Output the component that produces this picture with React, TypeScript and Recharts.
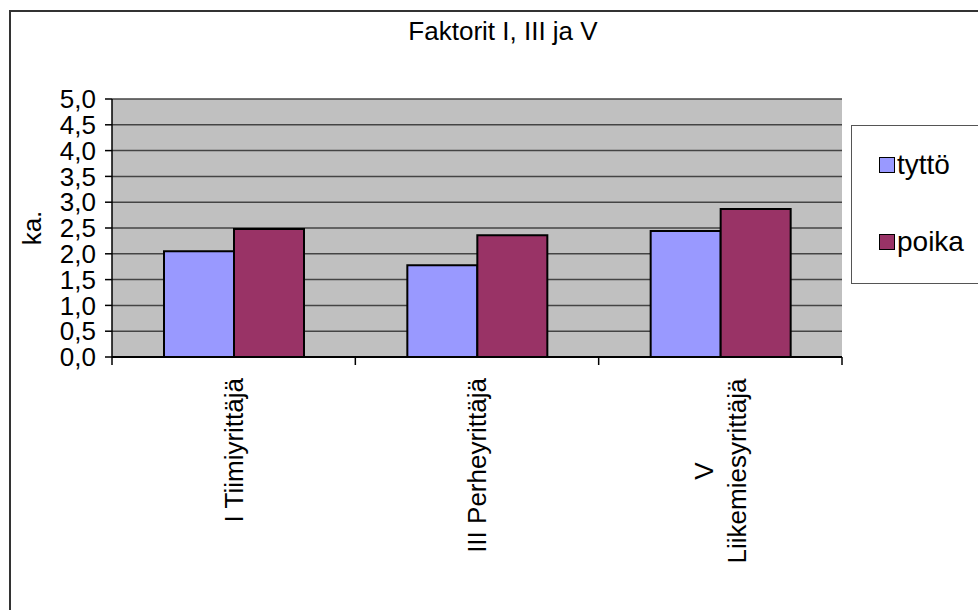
import { BarChart, Bar, XAxis, YAxis, CartesianGrid } from "recharts";

const categories = ["I Tiimiyrittäjä", "III Perheyrittäjä", "V\nLiikemiesyrittäjä"];
const tytto = [2.05, 1.78, 2.44];
const poika = [2.48, 2.36, 2.87];
const yTicks = [0, 0.5, 1, 1.5, 2, 2.5, 3, 3.5, 4, 4.5, 5];

const series = [
  { key: "tyttö", color: "#9999FF" },
  { key: "poika", color: "#993366" },
];

const FONT = '"Liberation Sans", Arial, sans-serif';
const PLOT_LEFT = 112;
const PLOT_RIGHT = 842;
const PLOT_BOTTOM = 357;
const step = (PLOT_RIGHT - PLOT_LEFT) / categories.length;

const data = categories.map((name, i) => ({ name, tyttö: tytto[i], poika: poika[i] }));

const CategoryTick = (props: any) => {
  const { x, payload, index } = props;
  const lines = String(payload.value).split("\n");
  const top = 378;
  const left = x - step / 2;
  return (
    <g>
      <line x1={left} x2={left} y1={PLOT_BOTTOM} y2={PLOT_BOTTOM + 8} stroke="#000" strokeWidth={1.5} />
      {index === categories.length - 1 && (
        <line x1={x + step / 2} x2={x + step / 2} y1={PLOT_BOTTOM} y2={PLOT_BOTTOM + 8} stroke="#000" strokeWidth={1.5} />
      )}
      {lines.length === 1 ? (
        <text
          x={x}
          y={top}
          transform={`rotate(-90 ${x} ${top})`}
          textAnchor="end"
          dominantBaseline="central"
          fontSize={26}
          fontFamily={FONT}
          fill="#000"
        >
          {lines[0]}
        </text>
      ) : (
        lines.map((l, i) => {
          const lx = x + (i - (lines.length - 1) / 2) * 33;
          const cy = top + 93;
          return (
            <text
              key={i}
              x={lx}
              y={cy}
              transform={`rotate(-90 ${lx} ${cy})`}
              textAnchor="middle"
              dominantBaseline="central"
              fontSize={26}
              fontFamily={FONT}
              fill="#000"
            >
              {l}
            </text>
          );
        })
      )}
    </g>
  );
};

const LegendBox = () => (
  <div
    style={{
      position: "absolute",
      left: 851,
      top: 125,
      width: 140,
      height: 159,
      border: "1px solid #555",
      background: "#fff",
      boxSizing: "border-box",
      fontFamily: FONT,
    }}
  >
    {series.map((s, i) => (
      <div key={s.key} style={{ position: "absolute", left: 27, top: 31 + i * 77, height: 18 }}>
        <div
          style={{
            position: "absolute",
            left: 0,
            top: 0,
            width: 16,
            height: 16,
            background: s.color,
            border: "1.5px solid #000",
            boxSizing: "border-box",
          }}
        />
        <div
          style={{
            position: "absolute",
            left: 18,
            top: -8,
            fontSize: 28,
            lineHeight: "32px",
            color: "#000",
            whiteSpace: "nowrap",
          }}
        >
          {s.key}
        </div>
      </div>
    ))}
  </div>
);

export default function App() {
  return (
    <div
      style={{
        position: "absolute",
        left: 0,
        top: 0,
        width: 978,
        height: 610,
        overflow: "hidden",
        background: "#fff",
        fontFamily: FONT,
      }}
    >
      <div
        style={{
          position: "absolute",
          left: 9,
          top: 10,
          width: 1200,
          height: 800,
          borderLeft: "2px solid #333",
          borderTop: "2px solid #333",
        }}
      />
      <div
        style={{
          position: "absolute",
          left: 0,
          width: 1006,
          top: 18,
          textAlign: "center",
          fontSize: 26,
          lineHeight: "26px",
          color: "#000",
        }}
      >
        Faktorit I, III ja V
      </div>
      <div style={{ position: "absolute", left: 0, top: 0 }}>
        <BarChart
          width={978}
          height={610}
          data={data}
          margin={{ top: 99, right: 136, bottom: 53, left: 12 }}
          barCategoryGap={52}
          barGap={0}
        >
          <CartesianGrid
            vertical={false}
            fill="#C0C0C0"
            fillOpacity={1}
            stroke="#444"
            strokeWidth={1.5}
            strokeOpacity={1}
          />
          <XAxis
            dataKey="name"
            height={200}
            interval={0}
            tickLine={false}
            axisLine={{ stroke: "#000", strokeWidth: 2 }}
            tick={<CategoryTick />}
          />
          <YAxis
            width={100}
            domain={[0, 5]}
            ticks={yTicks}
            interval={0}
            tickSize={7}
            tickMargin={9}
            tickLine={{ stroke: "#000", strokeWidth: 1.5 }}
            axisLine={{ stroke: "#000", strokeWidth: 1.5 }}
            tickFormatter={(v: number) => v.toFixed(1).replace(".", ",")}
            tick={{ fontSize: 26, fill: "#000", fontFamily: FONT }}
            label={{
              content: (p: any) => {
                const vb = p.viewBox;
                const cx = vb.x + 20;
                const cy = vb.y + vb.height / 2;
                return (
                  <text
                    x={cx}
                    y={cy}
                    transform={`rotate(-90 ${cx} ${cy})`}
                    textAnchor="middle"
                    dominantBaseline="central"
                    fontSize={26}
                    fontFamily={FONT}
                    fill="#000"
                  >
                    ka.
                  </text>
                );
              },
            }}
          />
          <YAxis
            yAxisId="edge"
            orientation="right"
            width={0}
            domain={[0, 5]}
            tick={false}
            tickLine={false}
            axisLine={{ stroke: "#808080", strokeWidth: 1.5 }}
          />
          {series.map((s) => (
            <Bar
              key={s.key}
              dataKey={s.key}
              fill={s.color}
              stroke="#000"
              strokeWidth={2}
              isAnimationActive={false}
            />
          ))}
        </BarChart>
      </div>
      <LegendBox />
    </div>
  );
}
